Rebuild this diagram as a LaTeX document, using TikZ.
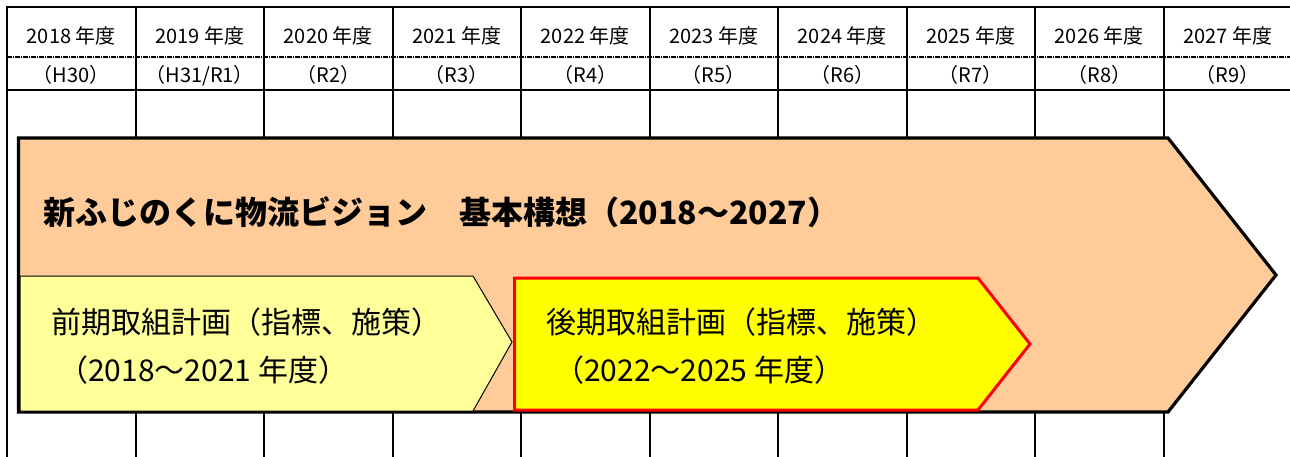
\documentclass[tikz,border=0pt]{standalone}
\usepackage{fontspec}
\setmainfont{Noto Sans CJK JP}
\definecolor{orangeF}{HTML}{FFCC99}
\definecolor{lyellow}{HTML}{FFFF99}
\definecolor{yellowF}{HTML}{FFFF00}
\definecolor{redL}{HTML}{FF0000}
\begin{document}
\begin{tikzpicture}[x=1pt,y=-1pt,
  grid/.style={line width=2pt,black},
  hdr/.style={font=\fontsize{20}{22}\selectfont, inner sep=0pt, anchor=base},
  plan/.style={font=\fontsize{30}{32}\selectfont, inner sep=0pt, anchor=base west},
  titletext/.style={font=\bfseries\fontsize{32}{34}\selectfont, inner sep=0pt, anchor=base west}]
\useasboundingbox (0,0) rectangle (1290,456);
\fill[white] (0,0) rectangle (1290,456);
\begin{scope}
\clip (0,0) rectangle (1290,456);
\draw[grid] (6,7) -- (1295,7);
\draw[line width=1.2pt, dash pattern=on 5pt off 1pt on 1pt off 1pt] (7,57) -- (1295,57);
\draw[grid] (6,90) -- (1295,90);
\foreach \i in {0,...,9} \draw[grid] ({7+128.5*\i},7) -- ({7+128.5*\i},460);
\end{scope}
% header row 1
\node[hdr] (y0) at (71.25,43) {2018 年度};
\node[hdr] (y1) at (199.75,43) {2019 年度};
\node[hdr] (y2) at (328.25,43) {2020 年度};
\node[hdr] (y3) at (456.75,43) {2021 年度};
\node[hdr] (y4) at (585.25,43) {2022 年度};
\node[hdr] (y5) at (713.75,43) {2023 年度};
\node[hdr] (y6) at (842.25,43) {2024 年度};
\node[hdr] (y7) at (970.75,43) {2025 年度};
\node[hdr] (y8) at (1099.25,43) {2026 年度};
\node[hdr] (y9) at (1227.75,43) {2027 年度};
% header row 2
\node[hdr] (e0) at (71.25,82) {（H30）};
\node[hdr] (e1) at (199.75,82) {（H31/R1）};
\node[hdr] (e2) at (328.25,82) {（R2）};
\node[hdr] (e3) at (456.75,82) {（R3）};
\node[hdr] (e4) at (585.25,82) {（R4）};
\node[hdr] (e5) at (713.75,82) {（R5）};
\node[hdr] (e6) at (842.25,82) {（R6）};
\node[hdr] (e7) at (970.75,82) {（R7）};
\node[hdr] (e8) at (1099.25,82) {（R8）};
\node[hdr] (e9) at (1227.75,82) {（R9）};
% big arrow
\filldraw[fill=orangeF, draw=black, line width=3.2pt, line join=miter]
  (18.5,138) -- (1168,138) -- (1276,275) -- (1168,412) -- (18.5,412) -- cycle;
\filldraw[fill=lyellow, draw=black, line width=1pt]
  (20,276) -- (473,276) -- (512,342) -- (473,411) -- (20,411) -- cycle;
\filldraw[fill=yellowF, draw=redL, line width=3pt]
  (514.5,278) -- (978,278) -- (1030,344) -- (978,410) -- (514.5,410) -- cycle;
% texts
\node[titletext] (title) at (43,224) {新ふじのくに物流ビジョン　基本構想（2018～2027）};
\node[plan] (z1) at (51,333) {前期取組計画（指標、施策）};
\node[plan] (z2) at (58,381) {（2018～2021 年度）};
\node[plan] (k1) at (546,333) {後期取組計画（指標、施策）};
\node[plan] (k2) at (554,381) {（2022～2025 年度）};
\end{tikzpicture}
\end{document}
